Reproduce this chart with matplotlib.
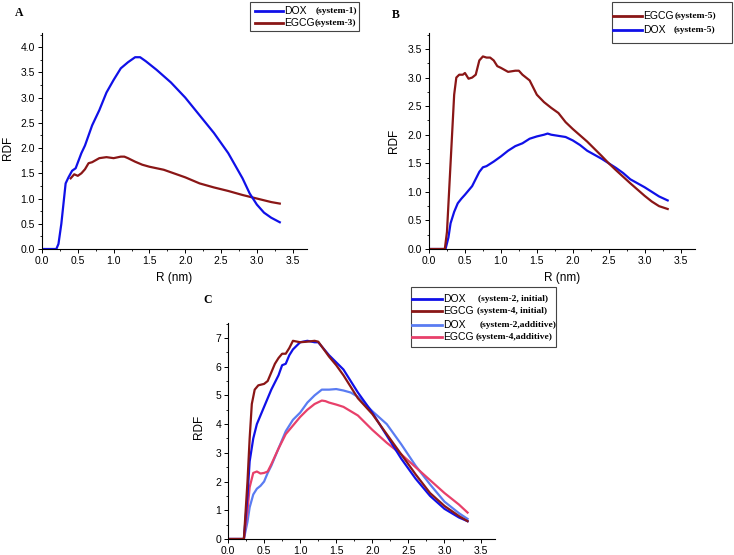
import matplotlib
matplotlib.use("Agg")
from matplotlib import pyplot as plt
from matplotlib.lines import Line2D
from matplotlib.patches import Rectangle
from matplotlib.ticker import MultipleLocator

plt.rcParams['font.family'] = ['Liberation Sans', 'DejaVu Sans']

BLUE = "#1010e8"
DRED = "#8a1616"
LBLUE = "#5a7cf2"
PINK = "#e8406a"

# ---- panel A ----
r_a_dox = [0, 0.2, 0.23, 0.27, 0.3, 0.33, 0.37, 0.42, 0.47, 0.55, 0.6, 0.7, 0.8, 0.9, 1.0, 1.1, 1.2, 1.3,
           1.37, 1.45, 1.6, 1.8, 2.0, 2.2, 2.4, 2.6, 2.8, 2.9, 3.0, 3.1, 3.2, 3.32]
g_a_dox = [0, 0, 0.1, 0.5, 0.9, 1.3, 1.42, 1.55, 1.6, 1.9, 2.05, 2.45, 2.75, 3.1, 3.35, 3.58, 3.7, 3.8,
           3.8, 3.72, 3.55, 3.3, 3.0, 2.65, 2.3, 1.9, 1.4, 1.1, 0.88, 0.72, 0.62, 0.53]
r_a_egcg = [0.4, 0.45, 0.5, 0.55, 0.6, 0.65, 0.7, 0.8, 0.9, 1.0, 1.1, 1.15, 1.2, 1.3, 1.4, 1.5, 1.7, 1.8,
            2.0, 2.2, 2.4, 2.6, 2.8, 3.0, 3.2, 3.32]
g_a_egcg = [1.4, 1.48, 1.45, 1.5, 1.58, 1.7, 1.72, 1.8, 1.82, 1.8, 1.83, 1.83, 1.8, 1.73, 1.67, 1.63, 1.57, 1.52,
            1.42, 1.3, 1.22, 1.15, 1.07, 1.0, 0.93, 0.9]

# ---- panel B ----
r_b_egcg = [0, 0.22, 0.25, 0.3, 0.35, 0.38, 0.42, 0.47, 0.5, 0.55, 0.6, 0.65, 0.7, 0.75, 0.8, 0.85, 0.9,
            0.95, 1.0, 1.1, 1.2, 1.25, 1.3, 1.4, 1.5, 1.6, 1.7, 1.8, 1.9, 2.0, 2.2, 2.4, 2.5, 2.6, 2.8,
            3.0, 3.1, 3.2, 3.32]
g_b_egcg = [0, 0, 0.3, 1.5, 2.7, 3.0, 3.05, 3.05, 3.08, 2.98, 3.0, 3.05, 3.3, 3.37, 3.35, 3.35, 3.3,
            3.2, 3.17, 3.1, 3.12, 3.12, 3.05, 2.95, 2.7, 2.57, 2.47, 2.38, 2.22, 2.1, 1.88, 1.63, 1.5, 1.38, 1.15,
            0.93, 0.83, 0.75, 0.7]
r_b_dox = [0, 0.23, 0.27, 0.3, 0.35, 0.4, 0.45, 0.5, 0.6, 0.7, 0.75, 0.8, 0.9, 1.0, 1.1, 1.2, 1.3, 1.4,
           1.5, 1.6, 1.65, 1.7, 1.8, 1.9, 2.0, 2.1, 2.2, 2.3, 2.4, 2.5, 2.6, 2.7, 2.8, 3.0, 3.1, 3.2, 3.32]
g_b_dox = [0, 0, 0.2, 0.45, 0.65, 0.8, 0.88, 0.95, 1.1, 1.35, 1.43, 1.45, 1.53, 1.62, 1.72, 1.8, 1.85, 1.93,
           1.97, 2.0, 2.02, 2.0, 1.98, 1.96, 1.9, 1.82, 1.72, 1.65, 1.58, 1.5, 1.42, 1.33, 1.22, 1.08, 1.0, 0.92, 0.85]

# ---- panel C ----
r_c_dox_i = [0, 0.22, 0.27, 0.3, 0.35, 0.4, 0.5, 0.6, 0.7, 0.75, 0.8, 0.85, 0.9, 1.0, 1.1, 1.2, 1.25, 1.3,
             1.4, 1.5, 1.6, 1.7, 1.8, 2.0, 2.2, 2.4, 2.6, 2.8, 3.0, 3.2, 3.32]
g_c_dox_i = [0, 0, 1.5, 2.7, 3.5, 4.0, 4.6, 5.2, 5.7, 6.05, 6.1, 6.4, 6.6, 6.85, 6.9, 6.85, 6.85, 6.7,
             6.4, 6.15, 5.9, 5.5, 5.1, 4.4, 3.6, 2.8, 2.1, 1.5, 1.05, 0.75, 0.62]
r_c_egcg_i = [0, 0.22, 0.27, 0.3, 0.33, 0.37, 0.42, 0.5, 0.55, 0.6, 0.65, 0.7, 0.75, 0.8, 0.85, 0.9, 1.0,
              1.1, 1.2, 1.25, 1.3, 1.4, 1.5, 1.6, 1.7, 1.8, 2.0, 2.2, 2.4, 2.6, 2.8, 3.0, 3.2, 3.32]
g_c_egcg_i = [0, 0, 2.0, 3.5, 4.7, 5.2, 5.35, 5.4, 5.5, 5.8, 6.1, 6.3, 6.45, 6.45, 6.65, 6.9, 6.85,
              6.87, 6.9, 6.87, 6.7, 6.35, 6.05, 5.7, 5.3, 4.9, 4.35, 3.65, 2.95, 2.25, 1.6, 1.15, 0.8, 0.62]
r_c_dox_a = [0, 0.22, 0.27, 0.3, 0.35, 0.4, 0.45, 0.5, 0.55, 0.6, 0.7, 0.8, 0.9, 1.0, 1.1, 1.2, 1.3, 1.4,
             1.5, 1.6, 1.7, 1.8, 1.9, 2.0, 2.2, 2.4, 2.6, 2.8, 3.0, 3.2, 3.32]
g_c_dox_a = [0, 0, 0.6, 1.1, 1.55, 1.75, 1.85, 2.0, 2.3, 2.55, 3.15, 3.75, 4.15, 4.4, 4.75, 5.0, 5.2, 5.2,
             5.22, 5.17, 5.1, 4.95, 4.7, 4.45, 4.0, 3.3, 2.55, 1.9, 1.3, 0.9, 0.7]
r_c_egcg_a = [0, 0.22, 0.27, 0.3, 0.35, 0.4, 0.45, 0.5, 0.55, 0.6, 0.7, 0.8, 0.9, 1.0, 1.1, 1.2, 1.3, 1.35,
              1.4, 1.5, 1.6, 1.7, 1.8, 2.0, 2.2, 2.4, 2.6, 2.8, 3.0, 3.2, 3.32]
g_c_egcg_a = [0, 0, 1.0, 1.8, 2.3, 2.35, 2.28, 2.3, 2.35, 2.6, 3.15, 3.65, 3.95, 4.25, 4.5, 4.7, 4.82, 4.8,
              4.75, 4.68, 4.6, 4.45, 4.3, 3.8, 3.35, 2.95, 2.5, 2.05, 1.6, 1.2, 0.92]

W, H = 734, 555
fig = plt.figure(figsize=(W / 100, H / 100), dpi=100)


def box(x0, x1, ytop, ybot):
    return [x0 / W, 1 - ybot / H, (x1 - x0) / W, (ybot - ytop) / H]


def style(ax, ymax, ymajor, yminor, fmt):
    for s in ["top", "right"]:
        ax.spines[s].set_visible(False)
    for s in ["left", "bottom"]:
        ax.spines[s].set_linewidth(0.8)
    ax.set_xlim(0, 3.7)
    ax.set_ylim(0, ymax)
    ax.xaxis.set_minor_locator(MultipleLocator(0.25))
    ax.yaxis.set_major_locator(MultipleLocator(ymajor))
    ax.yaxis.set_minor_locator(MultipleLocator(yminor))
    ax.set_xticks([0, 0.5, 1.0, 1.5, 2.0, 2.5, 3.0, 3.5])
    ax.set_xticklabels(["0.0", "0.5", "1.0", "1.5", "2.0", "2.5", "3.0", "3.5"])
    ax.yaxis.set_major_formatter(fmt)
    ax.tick_params(which="major", direction="out", length=3, width=0.7, labelsize=7.5, pad=2)
    ax.tick_params(which="minor", direction="out", length=1.5, width=0.6)


def legend(rows, x0, x1, ytop, ybot, lx0, lx1, tx):
    fig.patches.append(Rectangle((x0 / W, 1 - ybot / H), (x1 - x0) / W, (ybot - ytop) / H,
                                 transform=fig.transFigure, fill=False, ec="#444444", lw=0.8))
    for y, c, name, sub, sx in rows:
        fig.lines.append(Line2D([lx0 / W, lx1 / W], [1 - y / H, 1 - y / H], transform=fig.transFigure,
                                color=c, lw=2))
        fig.text(tx / W, 1 - y / H, name, fontsize=7.5, va="center", ha="left")
        fig.text(sx / W, 1 - y / H, sub, fontsize=6.8, va="center", ha="left",
                 family="Liberation Serif", weight="bold")


# panel A
axA = fig.add_axes(box(42, 307, 33, 249))
axA.plot(r_a_egcg, g_a_egcg, color=DRED, lw=1.6)
axA.plot(r_a_dox, g_a_dox, color=BLUE, lw=1.6)
style(axA, 4.28, 0.5, 0.25, "{x:.1f}")
axA.set_ylabel("RDF", fontsize=8.5)
axA.yaxis.set_label_coords(-0.106, 0.47)
axA.set_xlabel("R (nm)", fontsize=8.5)
axA.xaxis.set_label_coords(0.5, -0.107)

# panel B
axB = fig.add_axes(box(429, 695, 33, 249))
axB.plot(r_b_dox, g_b_dox, color=BLUE, lw=1.6)
axB.plot(r_b_egcg, g_b_egcg, color=DRED, lw=1.6)
style(axB, 3.78, 0.5, 0.25, "{x:.1f}")
axB.set_ylabel("RDF", fontsize=8.5)
axB.yaxis.set_label_coords(-0.109, 0.50)
axB.set_xlabel("R (nm)", fontsize=8.5)
axB.xaxis.set_label_coords(0.5, -0.107)

# panel C
axC = fig.add_axes(box(228, 495, 323, 539))
axC.plot(r_c_dox_a, g_c_dox_a, color=LBLUE, lw=1.6)
axC.plot(r_c_egcg_a, g_c_egcg_a, color=PINK, lw=1.6)
axC.plot(r_c_dox_i, g_c_dox_i, color=BLUE, lw=1.6)
axC.plot(r_c_egcg_i, g_c_egcg_i, color=DRED, lw=1.6)
style(axC, 7.52, 1, 0.5, "{x:.0f}")
axC.set_ylabel("RDF", fontsize=8.5)
axC.yaxis.set_label_coords(-0.086, 0.52)

# panel letters
fig.text(15 / W, 1 - 13 / H, "A", family="Liberation Serif", weight="bold", fontsize=8.5, va="center")
fig.text(392 / W, 1 - 15 / H, "B", family="Liberation Serif", weight="bold", fontsize=8.5, va="center")
fig.text(203 / W, 1 - 300 / H, "C", family="Liberation Serif", weight="bold", fontsize=8.5, va="center")

# legends
legend([(11, BLUE, "DOX", "(system-1)", 316),
        (23, DRED, "EGCG", "(system-3)", 315)], 250, 359, 2, 31, 255, 283, 284)
legend([(16, DRED, "EGCG", "(system-5)", 675),
        (30, BLUE, "DOX", "(system-5)", 674)], 612, 732, 2, 43, 613, 642, 643)
legend([(299, BLUE, "DOX", "(system-2, initial)", 478),
        (311, DRED, "EGCG", "(system-4, initial)", 477),
        (325, LBLUE, "DOX", "(system-2,additive)", 480),
        (337, PINK, "EGCG", "(system-4,additive)", 476)], 411, 556, 287, 347, 412, 442, 443)

fig.savefig("out.png", dpi=100)
